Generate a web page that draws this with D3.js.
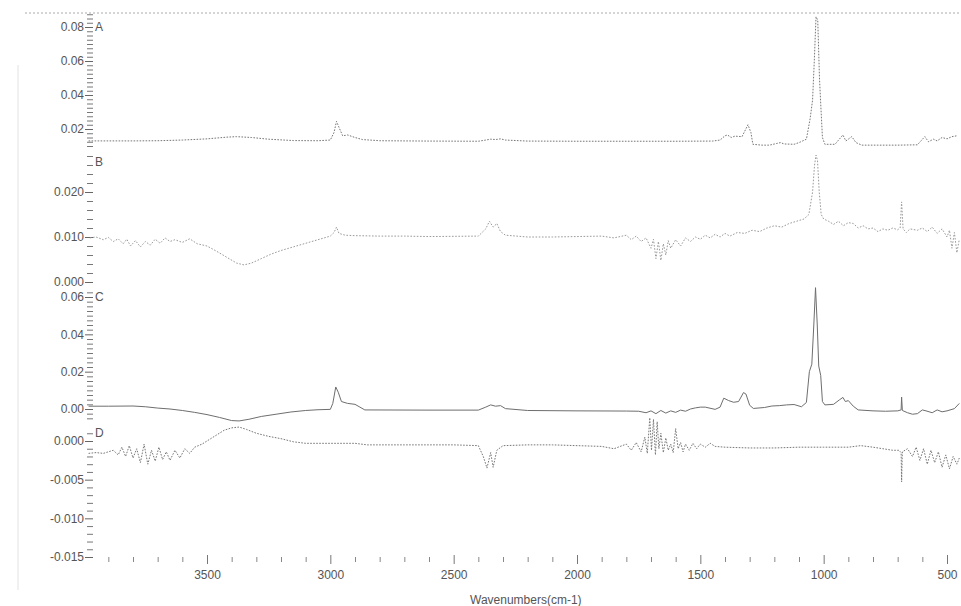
<!DOCTYPE html>
<html><head><meta charset="utf-8">
<script src="https://cdn.jsdelivr.net/npm/d3@7"></script>
<style>
html,body{margin:0;padding:0;background:#fff;}
svg{display:block;font-family:"Liberation Sans",Arial,sans-serif;}
</style></head><body>
<svg id="chart" width="961" height="606"></svg>
<script>
// ---------- DATA ----------
const panelNames = ["A", "B", "C", "D"];
const xMajorTicks = [3500, 3000, 2500, 2000, 1500, 1000, 500];
const xTitle = "Wavenumbers(cm-1)";
const yTicksA = [0.02, 0.04, 0.06, 0.08];
const yTicksB = [0.000, 0.010, 0.020];
const yTicksC = [0.00, 0.02, 0.04, 0.06];
const yTicksD = [0.000, -0.005, -0.010, -0.015];

// [wavenumber (cm-1), absorbance]
const seriesA = [
  [3980,0.0130],[3800,0.0130],[3700,0.0131],[3600,0.0135],[3500,0.0142],[3420,0.0152],[3380,0.0155],
  [3320,0.0150],[3250,0.0140],[3150,0.0132],[3050,0.0131],[3000,0.0135],[2985,0.0180],[2975,0.0245],
  [2965,0.0210],[2950,0.0160],[2930,0.0165],[2900,0.0150],[2870,0.0138],[2800,0.0131],[2600,0.0129],
  [2400,0.0128],[2370,0.0135],[2350,0.0140],[2330,0.0138],[2310,0.0142],[2290,0.0135],[2200,0.0129],
  [2000,0.0128],[1800,0.0128],[1600,0.0128],[1450,0.0129],[1420,0.0135],[1400,0.0160],[1390,0.0165],
  [1375,0.0150],[1360,0.0158],[1331,0.0155],[1307,0.0225],[1295,0.0180],[1287,0.0110],[1250,0.0105],
  [1220,0.0105],[1190,0.0115],[1175,0.0120],[1160,0.0112],[1120,0.0110],[1100,0.0120],[1070,0.0140],
  [1055,0.0260],[1045,0.0370],[1038,0.0600],[1031,0.0860],[1024,0.0840],[1017,0.0500],[1012,0.0350],
  [1005,0.0150],[995,0.0110],[954,0.0110],[922,0.0165],[910,0.0130],[886,0.0155],[869,0.0120],
  [845,0.0105],[800,0.0105],[700,0.0105],[620,0.0107],[590,0.0155],[575,0.0125],[555,0.0140],
  [540,0.0130],[520,0.0150],[500,0.0142],[480,0.0155],[460,0.0160]
];
const seriesB = [
  [3975,0.0098],[3950,0.0100],[3920,0.0094],[3900,0.0099],[3880,0.0090],[3860,0.0096],[3840,0.0085],
  [3825,0.0095],[3810,0.0080],[3790,0.0092],[3770,0.0078],[3750,0.0090],[3730,0.0082],[3710,0.0095],
  [3690,0.0086],[3670,0.0098],[3650,0.0090],[3630,0.0094],[3600,0.0088],[3570,0.0096],[3540,0.0085],
  [3500,0.0080],[3460,0.0068],[3420,0.0055],[3380,0.0042],[3350,0.0038],[3320,0.0042],[3280,0.0052],
  [3240,0.0062],[3200,0.0070],[3150,0.0078],[3100,0.0086],[3050,0.0094],[3000,0.0102],[2985,0.0110],
  [2975,0.0122],[2965,0.0108],[2940,0.0104],[2900,0.0103],[2800,0.0102],[2700,0.0102],[2600,0.0101],
  [2400,0.0102],[2370,0.0118],[2355,0.0135],[2340,0.0122],[2325,0.0130],[2310,0.0112],[2290,0.0104],
  [2200,0.0100],[2100,0.0100],[2000,0.0101],[1900,0.0102],[1850,0.0098],[1800,0.0104],[1780,0.0094],
  [1760,0.0102],[1740,0.0090],[1720,0.0098],[1700,0.0075],[1690,0.0095],[1680,0.0052],[1670,0.0090],
  [1660,0.0048],[1650,0.0085],[1640,0.0060],[1630,0.0092],[1620,0.0075],[1600,0.0094],[1580,0.0080],
  [1560,0.0098],[1540,0.0090],[1520,0.0100],[1500,0.0095],[1480,0.0104],[1460,0.0098],[1440,0.0106],
  [1420,0.0100],[1400,0.0108],[1380,0.0102],[1350,0.0110],[1320,0.0108],[1290,0.0115],[1260,0.0112],
  [1230,0.0120],[1200,0.0125],[1170,0.0122],[1140,0.0130],[1110,0.0135],[1080,0.0140],[1060,0.0150],
  [1045,0.0200],[1037,0.0260],[1031,0.0282],[1025,0.0270],[1018,0.0200],[1010,0.0150],[1000,0.0140],
  [980,0.0135],[960,0.0128],[940,0.0135],[920,0.0125],[900,0.0132],[880,0.0130],[860,0.0120],
  [840,0.0125],[820,0.0118],[800,0.0120],[780,0.0112],[760,0.0118],[740,0.0115],[720,0.0120],
  [700,0.0116],[690,0.0120],[684,0.0178],[678,0.0118],[665,0.0110],[650,0.0118],[620,0.0115],
  [600,0.0120],[580,0.0112],[560,0.0122],[540,0.0108],[520,0.0118],[500,0.0100],[490,0.0115],
  [480,0.0075],[470,0.0110],[460,0.0065],[450,0.0095]
];
const seriesC = [
  [3980,0.0015],[3900,0.0015],[3800,0.0016],[3750,0.0012],[3700,0.0005],[3650,0.0000],[3600,-0.0008],
  [3550,-0.0018],[3500,-0.0030],[3450,-0.0045],[3400,-0.0062],[3370,-0.0064],[3330,-0.0055],
  [3280,-0.0040],[3220,-0.0028],[3160,-0.0016],[3100,-0.0008],[3050,-0.0004],[3000,-0.0002],
  [2990,0.0030],[2978,0.0118],[2968,0.0090],[2955,0.0040],[2930,0.0030],[2900,0.0025],[2880,0.0010],
  [2860,-0.0005],[2600,-0.0006],[2400,-0.0006],[2370,0.0010],[2350,0.0022],[2330,0.0015],[2310,0.0018],
  [2290,0.0002],[2200,-0.0008],[2000,-0.0010],[1800,-0.0011],[1750,-0.0012],[1720,-0.0020],
  [1700,-0.0010],[1680,-0.0025],[1660,-0.0008],[1640,-0.0022],[1620,-0.0010],[1600,-0.0018],
  [1580,-0.0006],[1560,-0.0012],[1540,0.0000],[1520,0.0006],[1500,0.0010],[1480,0.0010],[1440,-0.0002],
  [1420,0.0010],[1405,0.0058],[1385,0.0045],[1365,0.0036],[1345,0.0040],[1325,0.0088],[1315,0.0080],
  [1300,0.0020],[1285,0.0003],[1240,0.0008],[1210,0.0016],[1180,0.0018],[1150,0.0022],[1120,0.0024],
  [1090,0.0012],[1070,0.0035],[1058,0.0200],[1048,0.0240],[1040,0.0450],[1033,0.0650],[1026,0.0450],
  [1020,0.0230],[1012,0.0180],[1005,0.0040],[995,0.0022],[960,0.0025],[935,0.0050],[922,0.0062],
  [912,0.0040],[900,0.0045],[880,0.0015],[860,-0.0005],[800,-0.0010],[750,-0.0012],[700,-0.0010],
  [686,-0.0005],[684,0.0064],[681,-0.0008],[660,-0.0020],[640,-0.0028],[620,-0.0025],[600,-0.0005],
  [585,-0.0010],[560,-0.0020],[540,-0.0005],[520,-0.0015],[500,-0.0010],[470,0.0002],[450,0.0030]
];
const seriesD = [
  [3980,-0.0016],[3950,-0.0015],[3920,-0.0016],[3900,-0.0014],[3880,-0.0012],[3860,-0.0018],
  [3845,-0.0008],[3830,-0.0020],[3815,-0.0006],[3800,-0.0022],[3785,-0.0010],[3770,-0.0028],
  [3755,-0.0004],[3740,-0.0030],[3725,-0.0012],[3710,-0.0026],[3695,-0.0008],[3680,-0.0024],
  [3665,-0.0014],[3650,-0.0025],[3630,-0.0012],[3610,-0.0022],[3590,-0.0010],[3570,-0.0016],
  [3550,-0.0008],[3520,-0.0004],[3490,0.0002],[3460,0.0008],[3430,0.0014],[3400,0.0017],[3370,0.0018],
  [3340,0.0015],[3300,0.0010],[3250,0.0006],[3200,0.0003],[3150,-0.0001],[3100,-0.0003],[3000,-0.0003],
  [2900,-0.0003],[2850,-0.0005],[2700,-0.0005],[2500,-0.0005],[2400,-0.0006],[2380,-0.0020],
  [2365,-0.0035],[2350,-0.0015],[2340,-0.0034],[2325,-0.0012],[2300,-0.0006],[2200,-0.0005],
  [2100,-0.0005],[2000,-0.0006],[1900,-0.0007],[1850,-0.0010],[1800,-0.0004],[1780,-0.0012],
  [1760,-0.0002],[1740,-0.0014],[1725,0.0005],[1715,-0.0016],[1705,0.0030],[1698,-0.0012],[1690,0.0028],
  [1682,-0.0018],[1675,0.0025],[1668,-0.0010],[1660,0.0010],[1650,-0.0015],[1640,0.0004],[1630,-0.0012],
  [1620,-0.0004],[1610,-0.0015],[1600,0.0016],[1590,-0.0010],[1580,-0.0002],[1570,-0.0014],
  [1560,-0.0004],[1545,-0.0012],[1530,-0.0003],[1515,-0.0010],[1500,-0.0004],[1480,-0.0008],
  [1460,-0.0003],[1440,-0.0007],[1400,-0.0008],[1300,-0.0009],[1200,-0.0009],[1100,-0.0008],
  [1000,-0.0008],[900,-0.0008],[850,-0.0006],[800,-0.0008],[760,-0.0010],[720,-0.0012],[695,-0.0012],
  [686,-0.0015],[684,-0.0053],[681,-0.0014],[660,-0.0010],[640,-0.0020],[625,-0.0008],[610,-0.0025],
  [595,-0.0010],[580,-0.0030],[565,-0.0012],[550,-0.0028],[535,-0.0014],[520,-0.0034],[505,-0.0018],
  [490,-0.0036],[475,-0.0020],[460,-0.0030],[450,-0.0022]
];

// ---------- LAYOUT ----------
const svg = d3.select("#chart");
const axisX = 93;
const x = d3.scaleLinear().domain([3500, 500]).range([207, 947]);

const panels = [
  {name: panelNames[0], data: seriesA, ticks: yTicksA, dec: 2, minor: 0.0025,
   y: d3.scaleLinear().domain([0.02, 0.08]).range([129, 27]), ext: [150, 14],
   stroke: "#777", dash: "1.6,1.4", labelY: 31},
  {name: panelNames[1], data: seriesB, ticks: yTicksB, dec: 3, minor: 0.002,
   y: d3.scaleLinear().domain([0, 0.02]).range([282, 192]), ext: [284, 150],
   stroke: "#9a9a9a", dash: "1.6,1.6", labelY: 166},
  {name: panelNames[2], data: seriesC, ticks: yTicksC, dec: 2, minor: 0.0025,
   y: d3.scaleLinear().domain([0, 0.06]).range([409, 297]), ext: [420, 290],
   stroke: "#6e6e6e", dash: null, labelY: 301},
  {name: panelNames[3], data: seriesD, ticks: yTicksD, dec: 3, minor: 0.001,
   y: d3.scaleLinear().domain([0, -0.015]).range([441, 557]), ext: [558, 431],
   stroke: "#777", dash: "1.6,1.4", labelY: 437}
];

// frame artifacts
svg.append("line").attr("x1", 25).attr("x2", 961).attr("y1", 13).attr("y2", 13)
  .attr("stroke", "#aaa").attr("stroke-dasharray", "2,2").attr("stroke-width", 1);
svg.append("line").attr("x1", 18).attr("x2", 18).attr("y1", 65).attr("y2", 590)
  .attr("stroke", "#e2e2e2").attr("stroke-width", 1);

panels.forEach(p => {
  const lo = p.y.invert(p.ext[0]), hi = p.y.invert(p.ext[1]);
  const a = Math.min(lo, hi), b = Math.max(lo, hi);
  const minors = d3.range(Math.ceil(a / p.minor - 1e-9), Math.floor(b / p.minor + 1e-9) + 1)
    .map(i => +(i * p.minor).toFixed(6))
    .filter(v => !p.ticks.some(t => Math.abs(t - v) < 1e-9));
  const gMin = svg.append("g").attr("transform", `translate(${axisX},0)`)
    .call(d3.axisLeft(p.y).tickValues(minors).tickSize(6).tickFormat(""));
  gMin.select(".domain").remove();
  gMin.selectAll("line").attr("stroke", "#777");
  const gMaj = svg.append("g").attr("transform", `translate(${axisX},0)`)
    .call(d3.axisLeft(p.y).tickValues(p.ticks).tickSize(8).tickPadding(1)
      .tickFormat(d => d.toFixed(p.dec)));
  gMaj.select(".domain").remove();
  gMaj.selectAll("line").attr("stroke", "#666");
  gMaj.selectAll("text").attr("font-size", 12).attr("fill", "#555")
    .attr("font-family", '"Liberation Sans", Arial, sans-serif');

  svg.append("text").attr("x", 95).attr("y", p.labelY).text(p.name)
    .attr("font-size", 12).attr("fill", "#555");

  const line = d3.line().x(d => x(d[0])).y(d => p.y(d[1]));
  const path = svg.append("path").datum(p.data).attr("d", line)
    .attr("fill", "none").attr("stroke", p.stroke).attr("stroke-width", 1);
  if (p.dash) path.attr("stroke-dasharray", p.dash);
});

// x axis (ticks only)
const xMinor = d3.range(500, 4000, 100).filter(v => !xMajorTicks.includes(v));
const gxm = svg.append("g").attr("transform", "translate(0,557)")
  .call(d3.axisBottom(x).tickValues(xMinor).tickSize(5).tickFormat(""));
gxm.select(".domain").remove();
gxm.selectAll("line").attr("stroke", "#888");
const gx = svg.append("g").attr("transform", "translate(0,555)")
  .call(d3.axisBottom(x).tickValues(xMajorTicks).tickSize(9).tickPadding(6).tickFormat(d => d));
gx.select(".domain").remove();
gx.selectAll("line").attr("stroke", "#777");
gx.selectAll("text").attr("font-size", 12).attr("fill", "#555")
  .attr("font-family", '"Liberation Sans", Arial, sans-serif');

svg.append("text").attr("x", 470).attr("y", 604).text(xTitle)
  .attr("font-size", 12).attr("fill", "#555");
</script>
</body></html>
